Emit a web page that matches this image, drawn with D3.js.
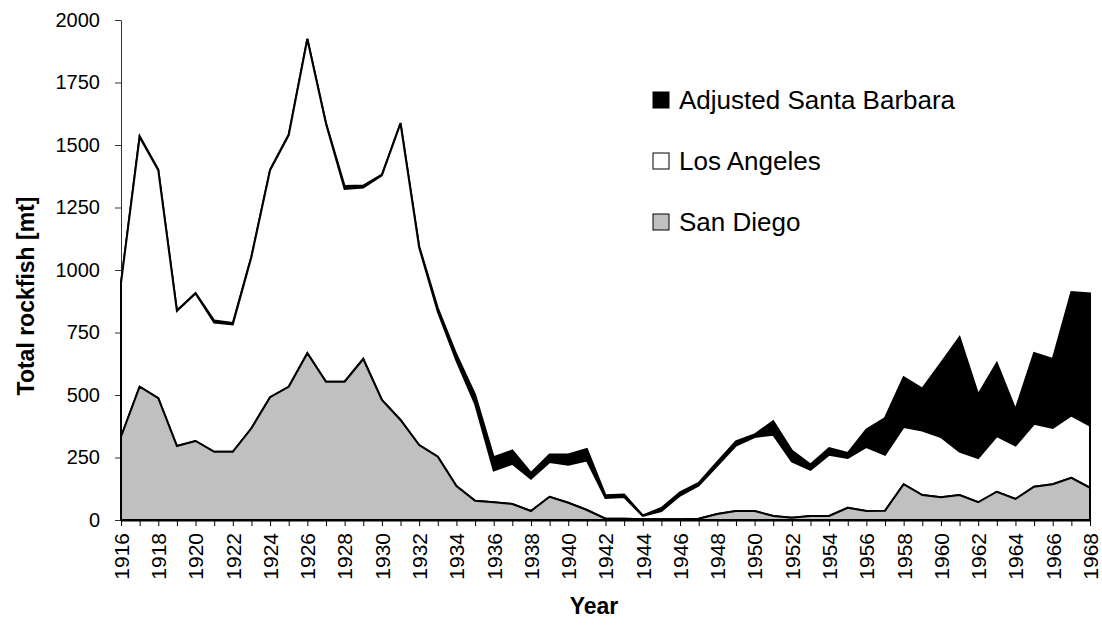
<!DOCTYPE html>
<html>
<head>
<meta charset="utf-8">
<script src="https://cdn.jsdelivr.net/npm/d3@7"></script>
<style>
  body { margin: 0; background: #fff; }
  svg { display: block; font-family: "Liberation Sans", Arial, sans-serif; }
</style>
</head>
<body>
<figure id="chart" style="margin:0"></figure>
<script>
// Total rockfish landings by port (mt), stacked
const years = [1916, 1917, 1918, 1919, 1920, 1921, 1922, 1923, 1924, 1925,
  1926, 1927, 1928, 1929, 1930, 1931, 1932, 1933, 1934, 1935,
  1936, 1937, 1938, 1939, 1940, 1941, 1942, 1943, 1944, 1945,
  1946, 1947, 1948, 1949, 1950, 1951, 1952, 1953, 1954, 1955,
  1956, 1957, 1958, 1959, 1960, 1961, 1962, 1963, 1964, 1965,
  1966, 1967, 1968];

const sanDiego = [333, 533, 487, 296, 316, 273, 273, 367, 491, 533,
  667, 553, 553, 644, 480, 400, 300, 253, 136, 77,
  71, 64, 36, 93, 69, 40, 5, 5, 3, 3,
  3, 5, 24, 36, 36, 16, 9, 16, 16, 49,
  36, 37, 143, 100, 91, 100, 71, 113, 84, 133,
  143, 169, 129];

const losAngeles = [615, 999, 912, 540, 590, 517, 509, 685, 908, 1006,
  1256, 1032, 771, 686, 899, 1186, 790, 580, 502, 388,
  127, 161, 129, 139, 152, 198, 83, 87, 13, 33,
  95, 133, 194, 262, 296, 325, 225, 185, 245, 199,
  256, 224, 229, 258, 241, 174, 177, 223, 214, 252,
  225, 249, 249];

const santaBarbara = [0, 3, 3, 2, 2, 8, 6, 3, 3, 3,
  2, 3, 12, 8, 3, 2, 5, 15, 24, 37,
  53, 53, 23, 30, 41, 46, 11, 10, 2, 12,
  13, 10, 14, 17, 10, 54, 44, 21, 27, 20,
  70, 147, 199, 168, 296, 457, 254, 292, 144, 283,
  276, 494, 528];

const seriesKeys = ["San Diego", "Los Angeles", "Adjusted Santa Barbara"];
const seriesFill = { "San Diego": "#c0c0c0", "Los Angeles": "#ffffff", "Adjusted Santa Barbara": "#000000" };
const legendOrder = ["Adjusted Santa Barbara", "Los Angeles", "San Diego"];
const yTicks = [0, 250, 500, 750, 1000, 1250, 1500, 1750, 2000];

const width = 1102, height = 632;
const margin = { top: 20, right: 12, bottom: 112, left: 121 };
const innerW = width - margin.left - margin.right;
const innerH = height - margin.top - margin.bottom;

const rows = years.map((y, i) => ({
  year: y,
  "San Diego": sanDiego[i],
  "Los Angeles": losAngeles[i],
  "Adjusted Santa Barbara": santaBarbara[i]
}));

const svg = d3.select("figure#chart")
  .append("svg")
  .attr("width", width)
  .attr("height", height);

const g = svg.append("g")
  .attr("transform", "translate(" + margin.left + "," + margin.top + ")");

const x = d3.scaleLinear()
  .domain([years[0], years[years.length - 1]])
  .range([0, innerW]);

const y = d3.scaleLinear()
  .domain([0, 2000])
  .range([innerH, 0]);

const stacked = d3.stack().keys(seriesKeys)(rows);

const area = d3.area()
  .x(d => x(d.data.year))
  .y0(d => y(d[0]))
  .y1(d => y(d[1]));

// y axis
const yAxis = g.append("g")
  .call(d3.axisLeft(y).tickValues(yTicks).tickFormat(d3.format("d"))
    .tickSize(6).tickSizeOuter(0).tickPadding(15));
yAxis.select(".domain").attr("stroke", "#333").attr("stroke-width", 1);
yAxis.selectAll(".tick line").attr("stroke", "#333");
yAxis.selectAll("text")
  .style("font-size", "20px")
  .attr("fill", "#000");

// stacked areas, topmost first so lower outlines stay visible
g.selectAll("path.band")
  .data(stacked.slice().reverse())
  .join("path")
  .attr("class", "band")
  .attr("d", area)
  .attr("fill", d => seriesFill[d.key])
  .attr("stroke", "#000")
  .attr("stroke-width", 2)
  .attr("stroke-linejoin", "miter");

// x axis
const xAxis = g.append("g")
  .attr("transform", "translate(0," + innerH + ")")
  .call(d3.axisBottom(x)
    .tickValues(years)
    .tickSize(6)
    .tickSizeOuter(0)
    .tickFormat(d => (d % 2 === 0 ? String(d) : "")));
xAxis.select(".domain").attr("stroke", "#000").attr("stroke-width", 2);
xAxis.selectAll(".tick line").attr("stroke", "#000");
xAxis.selectAll("text")
  .style("font-size", "21px")
  .attr("fill", "#000")
  .attr("transform", "rotate(-90)")
  .attr("x", -13)
  .attr("y", 0)
  .attr("dy", "0.35em")
  .attr("text-anchor", "end");

// axis titles
svg.append("text")
  .attr("transform", "translate(34," + (margin.top + 276) + ") rotate(-90)")
  .attr("text-anchor", "middle")
  .style("font-size", "23px")
  .style("font-weight", "bold")
  .text("Total rockfish [mt]");

svg.append("text")
  .attr("x", 594)
  .attr("y", 614)
  .attr("text-anchor", "middle")
  .style("font-size", "23px")
  .style("font-weight", "bold")
  .text("Year");

// legend
const legend = svg.append("g")
  .attr("transform", "translate(653,100)");
const item = legend.selectAll("g")
  .data(legendOrder)
  .join("g")
  .attr("transform", (d, i) => "translate(0," + (i * 61) + ")");
item.append("rect")
  .attr("x", 0)
  .attr("y", -8)
  .attr("width", 16)
  .attr("height", 16)
  .attr("fill", d => seriesFill[d])
  .attr("stroke", "#000")
  .attr("stroke-width", 1);
item.append("text")
  .attr("x", 26)
  .attr("y", 0)
  .attr("dy", "0.35em")
  .style("font-size", "26px")
  .text(d => d);
</script>
</body>
</html>
